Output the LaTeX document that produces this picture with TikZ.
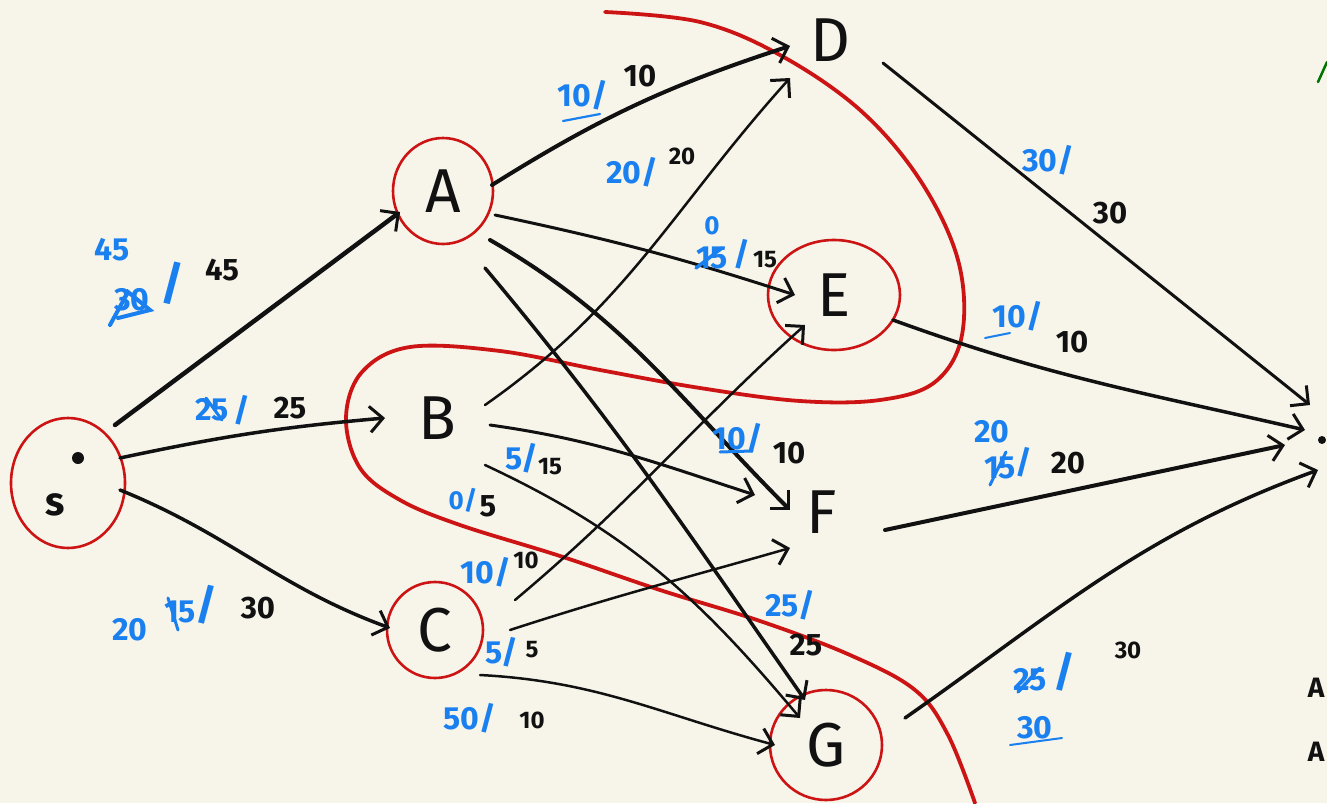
\documentclass[tikz,border=0pt]{standalone}
\usepackage{fontspec}
\setmainfont{Fira Sans}
\usetikzlibrary{arrows.meta,calc}
\definecolor{bg}{HTML}{F7F5EA}
\definecolor{flowc}{HTML}{1A80F0}
\definecolor{cutc}{HTML}{CC1414}
\definecolor{inkc}{HTML}{111111}
\begin{document}
\begin{tikzpicture}[x=1pt,y=-1pt,
  vtx/.style={circle,inner sep=0pt,minimum size=20pt,text=inkc,font=\fontsize{62}{62}\selectfont},
  edge/.style={draw=inkc,line width=3pt,line cap=round,-{Straight Barb[length=13pt,width=26pt,line width=3pt]}},
  fl/.style={text=flowc,inner sep=0pt,font=\bfseries\fontsize{32}{32}\selectfont},
  fls/.style={text=flowc,inner sep=0pt,font=\bfseries\fontsize{26}{26}\selectfont},
  cp/.style={text=inkc,inner sep=0pt,font=\bfseries\fontsize{31}{31}\selectfont},
  cps/.style={text=inkc,inner sep=0pt,font=\bfseries\fontsize{24}{24}\selectfont},
  strike/.style={draw=flowc,line width=4pt,line cap=round},
  ring/.style={draw=cutc,line width=2.6pt},
  cutline/.style={draw=cutc,line width=3.8pt,line cap=round}]
\useasboundingbox (0,0) rectangle (1327,803);
\fill[bg] (0,0) rectangle (1327,803);

% vertices
\node[vtx] (s) at (68,483) {};
\node[vtx] (A) at (443,191) {A};
\node[vtx] (B) at (437,418) {B};
\node[vtx] (C) at (435,630) {C};
\node[vtx] (D) at (830,40) {D};
\node[vtx] (E) at (834,295) {E};
\node[vtx] (F) at (822,512) {F};
\node[vtx] (G) at (826,745) {G};
\node[vtx] (t) at (1322,440) {};
\fill[inkc] (78,458) circle (6);
\fill[inkc] (t.center) circle (4);
\node[cp,font=\bfseries\fontsize{40}{40}\selectfont] (slabel) at (55,505) {s};

% red rings around chosen vertices
\draw[ring] (s.center) ellipse (57 and 65);
\draw[ring] (A.center) ellipse (50 and 53);
\draw[ring] (E.center) ellipse (66 and 55);
\draw[ring] (C.center) ellipse (48 and 48);
\draw[ring] (G.center) ellipse (56 and 55);

% cut line
\draw[cutline] plot[smooth,tension=0.6] coordinates {(605,12) (700,22) (780,55) (860,110) (920,180) (958,260) (962,335) (935,382) (880,400) (800,401) (700,388) (600,370) (500,351) (410,347) (362,372) (346,418) (360,468) (400,500) (460,525) (560,556) (660,590) (760,621) (850,655) (915,690) (948,735) (975,803)};

% edges
\draw[edge,line width=4.5pt] ([shift={(47,-58)}]s.center) -- ([shift={(-43,21)}]A.center);
\draw[edge,line width=3.5pt] ([shift={(52,-25)}]s.center) to[out=12,in=185] ([shift={(-52,0)}]B.center);
\draw[edge,line width=3.5pt] ([shift={(52,7)}]s.center) to[out=-22,in=160] ([shift={(-45,-2)}]C.center);
\draw[edge,line width=4pt] ([shift={(49,-6)}]A.center) to[out=32,in=198] ([shift={(-40,6)}]D.center);
\draw[edge] ([shift={(52,24)}]A.center) to[out=-12,in=162] ([shift={(-39,0)}]E.center);
\draw[edge,line width=4pt] ([shift={(47,49)}]A.center) to[out=-30,in=135] ([shift={(-32,-2)}]F.center);
\draw[edge,line width=3.5pt] ([shift={(42,77)}]A.center) to[out=-50,in=125] ([shift={(-21,-45)}]G.center);
\draw[edge,line width=2.5pt] ([shift={(48,-13)}]B.center) to[out=35,in=228] ([shift={(-40,38)}]D.center);
\draw[edge] ([shift={(53,7)}]B.center) to[out=-8,in=162] ([shift={(-67,-17)}]F.center);
\draw[edge,line width=2.5pt] ([shift={(48,47)}]B.center) to[out=-25,in=130] ([shift={(-26,-27)}]G.center);
\draw[edge,line width=2.5pt] ([shift={(80,-30)}]C.center) to[out=40,in=222] ([shift={(-29,30)}]E.center);
\draw[edge,line width=2.5pt] ([shift={(75,0)}]C.center) to[out=18,in=196] ([shift={(-32,36)}]F.center);
\draw[edge,line width=2.5pt] ([shift={(45,45)}]C.center) to[out=-3,in=165] ([shift={(-51,0)}]G.center);
\draw[edge] ([shift={(53,23)}]D.center) -- ([shift={(-12,-35)}]t.center);
\draw[edge,line width=3.5pt] ([shift={(59,25)}]E.center) to[out=-20,in=167] ([shift={(-17,-10)}]t.center);
\draw[edge,line width=4pt] ([shift={(63,18)}]F.center) -- ([shift={(-37,5)}]t.center);
\draw[edge,line width=3.5pt] ([shift={(79,-27)}]G.center) to[out=35,in=200] ([shift={(-4,30)}]t.center);

% labels s->A
\node[fl] (l1a) at (112,250) {45};
\node[fl] (l1b) at (132,300) {30};
\draw[strike] (110,325) -- (128,292) -- (150,310) -- (118,318);
\node[fl,font=\bfseries\fontsize{46}{46}\selectfont] (l1c) at (172,283) {/};
\node[cp] (l1d) at (222,270) {45};
% s->B
\node[fl] (l2a) at (212,410) {25};
\draw[strike,line width=3pt] (206,398) -- (222,420);
\node[fl] (l2b) at (242,410) {/};
\node[cp] (l2c) at (290,408) {25};
% s->C
\node[fl] (l3a) at (130,630) {20};
\node[fl] (l3b) at (180,612) {15};
\draw[strike,line width=3pt] (168,598) -- (178,630);
\node[fl,font=\bfseries\fontsize{42}{42}\selectfont] (l3c) at (206,605) {/};
\node[cp] (l3d) at (258,608) {30};
% A->D
\node[fl] (l4a) at (583,95) {10/};
\draw[draw=flowc,line width=2.2pt,line cap=round] (563,121) -- (600,114);
\node[cp] (l4b) at (640,76) {10};
% B->D
\node[fl] (l5a) at (632,172) {20/};
\node[cps] (l5b) at (682,156) {20};
% A->E
\node[fls] (l6a) at (712,226) {0};
\node[fl] (l6b) at (712,258) {15};
\draw[strike,line width=3.5pt] (696,268) -- (722,248);
\node[fl] (l6c) at (742,254) {/};
\node[cps] (l6d) at (765,260) {15};
% D->t
\node[fl] (l7a) at (1048,160) {30/};
\node[cp] (l7b) at (1110,213) {30};
% E->t
\node[fl] (l8a) at (1018,316) {10/};
\draw[draw=flowc,line width=2pt,line cap=round] (985,338) -- (1010,333);
\node[cp] (l8b) at (1072,342) {10};
% A->F
\node[fl] (l9a) at (738,438) {10/};
\draw[draw=flowc,line width=3pt,line cap=round] (720,452) -- (752,451);
\node[cp] (l9b) at (789,453) {10};
% B->F
\node[fl] (l10a) at (522,458) {5/};
\node[cps] (l10b) at (550,467) {15};
% B->G
\node[fls] (l11a) at (463,500) {0/};
\node[cp] (l11b) at (488,506) {5};
% C->E
\node[fl] (l12a) at (486,572) {10/};
\node[cps] (l12b) at (526,560) {10};
% C->F
\node[fl] (l13a) at (502,652) {5/};
\node[cps] (l13b) at (532,650) {5};
% C->G
\node[fl] (l14a) at (470,718) {50/};
\node[cps] (l14b) at (532,720) {10};
% A->G
\node[fl] (l15a) at (790,605) {25/};
\node[cp] (l15b) at (806,645) {25};
% F->t
\node[fl] (l16a) at (992,432) {20};
\node[fl] (l16b) at (1000,468) {15};
\draw[strike,line width=3pt] (990,485) -- (1006,452);
\node[fl] (l16c) at (1024,462) {/};
\node[cp] (l16d) at (1068,463) {20};
% G->t
\node[fl] (l17a) at (1030,680) {25};
\draw[strike,line width=3.5pt] (1018,692) -- (1040,668);
\node[fl,font=\bfseries\fontsize{42}{42}\selectfont] (l17b) at (1064,672) {/};
\node[cps] (l17c) at (1128,650) {30};
\node[fl] (l17d) at (1035,728) {30};
\draw[draw=flowc,line width=2pt,line cap=round] (1010,745) -- (1062,738);

% cut-off marks at right edge
\node[cp,font=\bfseries\fontsize{28}{28}\selectfont] (m1) at (1316,688) {A};
\node[cp,font=\bfseries\fontsize{28}{28}\selectfont] (m2) at (1316,752) {A};
\draw[draw=green!45!black,line width=2.5pt,line cap=round] (1318,82) -- (1327,62);
\end{tikzpicture}
\end{document}
